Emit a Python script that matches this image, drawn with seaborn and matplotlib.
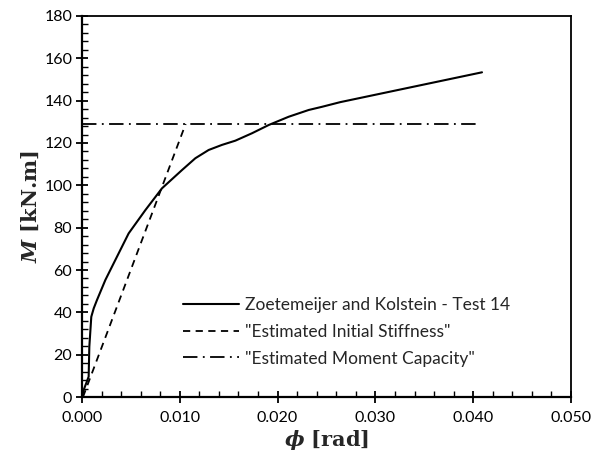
import matplotlib
matplotlib.use("Agg")
import matplotlib.pyplot as plt
import seaborn as sns
import pandas as pd
from matplotlib.ticker import MultipleLocator, FormatStrFormatter

sns.set_theme(style="white")
plt.rcParams['font.family'] = ['Lato', 'DejaVu Sans']
plt.rcParams['mathtext.fontset'] = 'custom'
plt.rcParams['mathtext.it'] = 'DejaVu Serif:italic:bold'
plt.rcParams['mathtext.rm'] = 'DejaVu Serif:bold'

# Test curve
test_phi = [0.0, 0.00017, 0.00068, 0.00075, 0.00095, 0.0012, 0.00153, 0.00239, 0.00307,
            0.00477, 0.00648, 0.00818, 0.01022, 0.01159, 0.01295, 0.01431, 0.01568,
            0.01738, 0.01909, 0.02113, 0.02318, 0.02454, 0.0264, 0.0409]
test_M = [0.0, 3.3, 9.6, 23.8, 37.9, 41.9, 45.8, 55.3, 61.6,
          77.3, 88.3, 98.6, 107.2, 112.8, 116.7, 119.1, 121.1,
          124.6, 128.5, 132.4, 135.6, 137.1, 139.3, 153.4]

# Estimated initial stiffness
stiff_phi = [0.0001, 0.0106]
stiff_M = [0.0, 129.0]

# Estimated moment capacity
cap_phi = [0.0, 0.0404]
cap_M = [129.0, 129.0]

labels = ["Zoetemeijer and Kolstein - Test 14",
          "\"Estimated Initial Stiffness\"",
          "\"Estimated Moment Capacity\""]

fig = plt.figure(figsize=(5.95, 4.65), dpi=100)
ax = fig.add_axes([82/595, 1-397/465, (571-82)/595, (397-16)/465])

df1 = pd.DataFrame({"phi": test_phi, "M": test_M})
df2 = pd.DataFrame({"phi": stiff_phi, "M": stiff_M})
df3 = pd.DataFrame({"phi": cap_phi, "M": cap_M})

sns.lineplot(data=df1, x="phi", y="M", ax=ax, color="black", lw=1.5,
             label=labels[0], sort=False)
sns.lineplot(data=df2, x="phi", y="M", ax=ax, color="black", lw=1.3,
             label=labels[1], sort=False, linestyle=(0, (4, 3)))
sns.lineplot(data=df3, x="phi", y="M", ax=ax, color="black", lw=1.3,
             label=labels[2], sort=False, linestyle=(0, (8, 3, 1, 3)))

ax.set_xlim(0, 0.05)
ax.set_ylim(0, 180)
ax.xaxis.set_major_locator(MultipleLocator(0.01))
ax.xaxis.set_minor_locator(MultipleLocator(0.002))
ax.yaxis.set_major_locator(MultipleLocator(20))
ax.yaxis.set_minor_locator(MultipleLocator(4))
ax.xaxis.set_major_formatter(FormatStrFormatter("%.3f"))

ax.tick_params(axis="both", which="major", direction="inout", length=8, width=1.3,
               colors="black", labelsize=11.5, pad=3,
               bottom=True, left=True)
ax.tick_params(axis="both", which="minor", direction="in", length=4, width=1.0,
               colors="black", bottom=True, left=True)
ax.tick_params(axis="x", which="major", pad=6)

for s in ax.spines.values():
    s.set_color("black")
    s.set_linewidth(1.3)
ax.spines["left"].set_linewidth(1.6)
ax.spines["bottom"].set_linewidth(1.6)

ax.set_xlabel(r"$\phi$ [rad]", fontsize=15, family="DejaVu Serif", fontweight="bold", labelpad=2)
ax.set_ylabel(r"$M$ [kN.m]", fontsize=15, family="DejaVu Serif", fontweight="bold", labelpad=2)

leg = ax.legend(loc="upper left", bbox_to_anchor=((183-82)/489, (397-297)/381),
                frameon=False, borderaxespad=0, borderpad=0,
                fontsize=12.5, handlelength=3.2, handletextpad=0.35,
                labelspacing=0.62)

fig.savefig("out.png", dpi=100, facecolor="white")
